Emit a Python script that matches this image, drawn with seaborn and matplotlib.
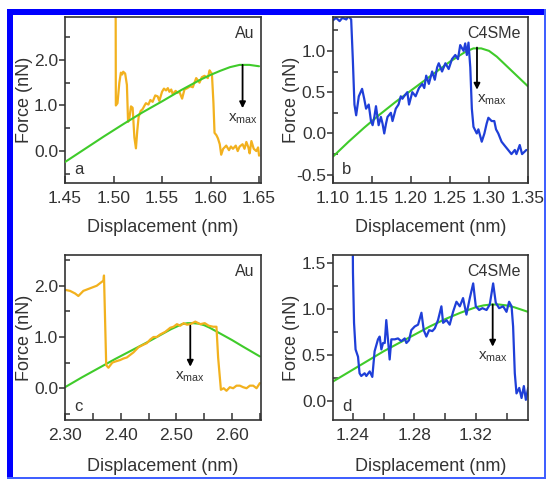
import numpy as np
import pandas as pd
import seaborn as sns
import matplotlib.pyplot as plt
import matplotlib.ticker as ticker
from matplotlib.patches import Rectangle

# panel a : Au, first trace
a_data_x = [1.5022, 1.5024, 1.5041, 1.5060, 1.5076, 1.5090, 1.5100, 1.5120, 1.5138, 1.5150,
            1.5162, 1.5180, 1.5197, 1.5215, 1.5231, 1.5245, 1.5259, 1.5280, 1.5300, 1.5320,
            1.5334, 1.5360, 1.5380, 1.5403, 1.5430, 1.5455, 1.5472, 1.5500, 1.5520, 1.5541,
            1.5560, 1.5576, 1.5595, 1.5610, 1.5640, 1.5660, 1.5679, 1.5707, 1.5731, 1.5760,
            1.5790, 1.5817, 1.5852, 1.5870, 1.5886, 1.5910, 1.5938, 1.5972, 1.5990, 1.6005,
            1.6014, 1.6030, 1.6041, 1.6060, 1.6076, 1.6095, 1.6110, 1.6130, 1.6162, 1.6190,
            1.6210, 1.6231, 1.6260, 1.6280, 1.6300, 1.6330, 1.6350, 1.6369, 1.6390, 1.6403,
            1.6421, 1.6445, 1.6472, 1.6490, 1.6500]
a_data_y = [3.20, 1.00, 1.05, 1.50, 1.72, 1.68, 1.74, 1.70, 1.45, 0.64,
            0.70, 0.98, 0.95, 0.30, 0.06, 0.45, 0.75, 0.88, 0.92, 1.00,
            1.05, 1.02, 1.12, 1.08, 1.22, 1.20, 1.10, 1.30, 1.37, 1.33,
            1.38, 1.30, 1.35, 1.25, 1.32, 1.28, 1.30, 1.15, 1.35, 1.38,
            1.42, 1.40, 1.60, 1.55, 1.50, 1.62, 1.65, 1.60, 1.77, 1.72,
            1.70, 1.05, 0.40, 0.35, 0.28, 0.15, -0.08, 0.05, 0.12, 0.02,
            0.10, 0.05, 0.12, 0.00, 0.10, 0.15, 0.05, 0.20, 0.08, -0.05,
            0.22, 0.05, 0.00, 0.08, -0.10]
a_fit_x = [1.45, 1.47, 1.49, 1.51, 1.53, 1.55, 1.57, 1.59, 1.60, 1.61, 1.62, 1.63, 1.64, 1.65]
a_fit_y = [-0.24, 0.04, 0.32, 0.59, 0.85, 1.09, 1.34, 1.57, 1.67, 1.76, 1.84, 1.89, 1.89, 1.86]

# panel b : C4SMe, first trace
b_data_x = [1.1000, 1.1040, 1.1085, 1.1120, 1.1170, 1.1200, 1.1233, 1.1254, 1.1275, 1.1297,
            1.1331, 1.1373, 1.1400, 1.1424, 1.1458, 1.1487, 1.1508, 1.1530, 1.1551, 1.1585,
            1.1614, 1.1635, 1.1657, 1.1680, 1.1699, 1.1742, 1.1763, 1.1805, 1.1840, 1.1869,
            1.1890, 1.1911, 1.1953, 1.1975, 1.2017, 1.2059, 1.2102, 1.2144, 1.2170, 1.2195,
            1.2229, 1.2271, 1.2305, 1.2335, 1.2356, 1.2398, 1.2441, 1.2483, 1.2525, 1.2568,
            1.2602, 1.2631, 1.2674, 1.2695, 1.2716, 1.2737, 1.2760, 1.2780, 1.2801, 1.2843,
            1.2864, 1.2907, 1.2941, 1.2970, 1.2992, 1.3034, 1.3068, 1.3090, 1.3119, 1.3161,
            1.3203, 1.3246, 1.3288, 1.3331, 1.3352, 1.3394, 1.3424, 1.3479]
b_data_y = [1.37, 1.40, 1.36, 1.40, 1.38, 1.42, 1.38, 0.90, 0.35, 0.22,
            0.45, 0.54, 0.42, 0.30, 0.35, 0.15, 0.10, 0.20, 0.33, 0.10,
            0.20, 0.12, 0.00, 0.12, 0.20, 0.25, 0.15, 0.30, 0.35, 0.45,
            0.42, 0.45, 0.50, 0.35, 0.50, 0.45, 0.55, 0.60, 0.55, 0.70,
            0.60, 0.75, 0.65, 0.80, 0.85, 0.75, 0.85, 0.78, 0.90, 0.95,
            0.90, 1.07, 1.00, 1.09, 0.95, 1.10, 0.80, 0.30, 0.08, 0.00,
            0.05, -0.10, 0.00, 0.12, 0.19, 0.15, 0.15, 0.05, 0.00, -0.10,
            -0.15, -0.20, -0.25, -0.20, -0.25, -0.14, -0.25, -0.20]
b_fit_x = [1.10, 1.12, 1.14, 1.16, 1.18, 1.20, 1.22, 1.24, 1.25, 1.26,
           1.27, 1.28, 1.29, 1.30, 1.31, 1.32, 1.33, 1.34, 1.35]
b_fit_y = [-0.28, -0.10, 0.07, 0.23, 0.38, 0.52, 0.66, 0.80, 0.87, 0.93,
           0.99, 1.03, 1.03, 1.00, 0.93, 0.84, 0.75, 0.66, 0.57]

# panel c : Au, second trace
c_data_x = [2.300, 2.309, 2.318, 2.324, 2.333, 2.345, 2.357, 2.363, 2.369, 2.370,
            2.374, 2.378, 2.385, 2.390, 2.399, 2.405, 2.411, 2.417, 2.423, 2.432,
            2.441, 2.447, 2.453, 2.459, 2.465, 2.471, 2.480, 2.489, 2.495, 2.501,
            2.507, 2.513, 2.519, 2.525, 2.534, 2.543, 2.551, 2.558, 2.566, 2.572,
            2.575, 2.580, 2.585, 2.590, 2.596, 2.602, 2.608, 2.614, 2.620, 2.626,
            2.632, 2.638, 2.644, 2.650]
c_data_y = [1.92, 1.90, 1.85, 1.80, 1.90, 1.95, 2.00, 2.05, 2.10, 2.20,
            0.45, 0.40, 0.50, 0.52, 0.55, 0.58, 0.60, 0.65, 0.70, 0.80,
            0.85, 0.88, 0.95, 1.00, 1.00, 1.05, 1.10, 1.18, 1.20, 1.25,
            1.22, 1.27, 1.24, 1.25, 1.30, 1.25, 1.27, 1.22, 1.20, 1.20,
            0.60, -0.03, 0.00, -0.05, 0.02, 0.00, 0.05, 0.05, 0.02, 0.00,
            0.05, 0.05, 0.00, 0.10]
c_fit_x = [2.30, 2.33, 2.36, 2.39, 2.42, 2.45, 2.47, 2.49, 2.50, 2.51,
           2.52, 2.53, 2.54, 2.55, 2.56, 2.58, 2.60, 2.62, 2.65]
c_fit_y = [0.02, 0.21, 0.39, 0.57, 0.74, 0.91, 1.03, 1.15, 1.20, 1.25,
           1.27, 1.27, 1.26, 1.23, 1.18, 1.06, 0.94, 0.81, 0.62]

# panel d : C4SMe, second trace
d_data_x = [1.2398, 1.2400, 1.2407, 1.2417, 1.2433, 1.2443, 1.2454, 1.2476, 1.2487, 1.2509,
            1.2526, 1.2541, 1.2563, 1.2574, 1.2585, 1.2596, 1.2607, 1.2617, 1.2628, 1.2639,
            1.2650, 1.2672, 1.2693, 1.2715, 1.2737, 1.2748, 1.2765, 1.2780, 1.2802, 1.2824,
            1.2846, 1.2861, 1.2878, 1.2896, 1.2917, 1.2933, 1.2954, 1.2976, 1.2987, 1.3009,
            1.3030, 1.3052, 1.3074, 1.3096, 1.3117, 1.3139, 1.3161, 1.3183, 1.3200, 1.3222,
            1.3243, 1.3270, 1.3291, 1.3313, 1.3330, 1.3352, 1.3378, 1.3400, 1.3417, 1.3433,
            1.3443, 1.3454, 1.3465, 1.3483, 1.3498, 1.3513, 1.3526, 1.3541]
d_data_y = [1.90, 1.40, 0.85, 0.56, 0.48, 0.30, 0.27, 0.30, 0.27, 0.32,
            0.26, 0.54, 0.67, 0.70, 0.56, 0.63, 0.63, 0.88, 0.67, 0.45,
            0.67, 0.67, 0.68, 0.65, 0.68, 0.63, 0.66, 0.77, 0.81, 0.83,
            0.96, 0.77, 0.70, 0.77, 0.76, 0.79, 0.88, 1.03, 0.85, 0.88,
            0.83, 0.97, 1.08, 1.03, 1.12, 0.94, 1.12, 1.28, 1.03, 0.99,
            1.01, 0.99, 1.05, 1.28, 1.07, 1.01, 1.03, 0.97, 1.08, 1.03,
            0.81, 0.30, 0.08, 0.14, 0.03, 0.16, 0.01, 0.14]
d_fit_x = [1.227, 1.24, 1.25, 1.26, 1.27, 1.28, 1.29, 1.30, 1.31, 1.32,
           1.325, 1.33, 1.335, 1.34, 1.345, 1.354]
d_fit_y = [0.21, 0.34, 0.44, 0.54, 0.63, 0.72, 0.81, 0.89, 0.96, 1.02,
           1.04, 1.05, 1.05, 1.04, 1.02, 0.97]

# arrows: x position, top, tip
arrows = {'a': (1.633, 1.89, 0.94), 'b': (1.2846, 1.04, 0.53),
          'c': (2.525, 1.22, 0.42), 'd': (1.331, 1.05, 0.59)}

sns.set_style('white')
plt.rcParams['font.family'] = ['Liberation Sans', 'DejaVu Sans']
plt.rcParams['mathtext.fontset'] = 'custom'
plt.rcParams['mathtext.rm'] = 'Liberation Sans'

ORANGE = '#F2B11E'
BLUE = '#1F3FD8'
GREEN = '#3FCB2A'
DARK = '#333333'

fig = plt.figure(figsize=(5.46, 4.80), dpi=100)

ax_a = fig.add_axes([65/546, 1-183/480, 196/546, 166/480])
ax_b = fig.add_axes([333/546, 1-183/480, 195/546, 166/480])
ax_c = fig.add_axes([65/546, 1-420/480, 196/546, 165/480])
ax_d = fig.add_axes([333/546, 1-420/480, 195/546, 165/480])


def draw(ax, dx, dy, fx, fy, color, green_on_top):
    df = pd.DataFrame({'x': dx, 'y': dy})
    fit = pd.DataFrame({'x': fx, 'y': fy})
    sns.lineplot(data=df, x='x', y='y', ax=ax, color=color, lw=1.6,
                 sort=False, estimator=None, zorder=2)
    sns.lineplot(data=fit, x='x', y='y', ax=ax, color=GREEN, lw=1.5,
                 sort=False, estimator=None, zorder=3 if green_on_top else 1)


def style(ax, xlim, ylim, xmajor, ymajor, xminor, yminor, fmt_x, fmt_y, name, panel):
    ax.set_xlim(xlim)
    ax.set_ylim(ylim)
    ax.xaxis.set_major_locator(ticker.MultipleLocator(xmajor))
    ax.yaxis.set_major_locator(ticker.MultipleLocator(ymajor))
    if xminor:
        ax.xaxis.set_minor_locator(ticker.MultipleLocator(xminor))
    if yminor:
        ax.yaxis.set_minor_locator(ticker.MultipleLocator(yminor))
    ax.xaxis.set_major_formatter(ticker.FormatStrFormatter(fmt_x))
    ax.yaxis.set_major_formatter(ticker.FormatStrFormatter(fmt_y))
    for sp in ax.spines.values():
        sp.set_color(DARK)
        sp.set_linewidth(1.2)
    ax.tick_params(axis='x', which='both', direction='in', length=5, width=1.1,
                   color=DARK, labelcolor=DARK, labelsize=12.5, pad=6, bottom=True)
    ax.tick_params(axis='y', which='major', direction='out', length=4, width=1.1,
                   color=DARK, labelcolor=DARK, labelsize=12.5, pad=1, left=True)
    ax.tick_params(axis='y', which='minor', direction='in', length=3.5, width=1.1,
                   color=DARK, left=True)
    ax.set_xlabel('Displacement (nm)', fontsize=13, color=DARK)
    ax.set_ylabel('Force (nN)', fontsize=13, color=DARK)
    ax.text(0.965, 0.90, name, transform=ax.transAxes, ha='right', va='center',
            fontsize=11.5, color=DARK)
    ax.text(0.07, 0.08, panel, transform=ax.transAxes, ha='center', va='center',
            fontsize=12, color=DARK)


draw(ax_a, a_data_x, a_data_y, a_fit_x, a_fit_y, ORANGE, True)
draw(ax_b, b_data_x, b_data_y, b_fit_x, b_fit_y, BLUE, False)
draw(ax_c, c_data_x, c_data_y, c_fit_x, c_fit_y, ORANGE, False)
draw(ax_d, d_data_x, d_data_y, d_fit_x, d_fit_y, BLUE, False)

style(ax_a, (1.45, 1.652), (-0.70, 2.94), 0.05, 1.0, None, 0.5, '%.2f', '%.1f', 'Au', 'a')
style(ax_b, (1.10, 1.35), (-0.60, 1.41), 0.05, 0.5, None, 0.25, '%.2f', '%.1f', 'C4SMe', 'b')
style(ax_c, (2.30, 2.652), (-0.62, 2.60), 0.10, 1.0, 0.05, 0.5, '%.2f', '%.1f', 'Au', 'c')
style(ax_d, (1.227, 1.354), (-0.21, 1.59), 0.04, 0.5, 0.02, 0.25, '%.2f', '%.1f', 'C4SMe', 'd')

for ax, key, ha in [(ax_a, 'a', 'center'), (ax_b, 'b', 'left'),
                    (ax_c, 'c', 'center'), (ax_d, 'd', 'center')]:
    x, top, tip = arrows[key]
    ax.annotate('', xy=(x, tip), xytext=(x, top),
                arrowprops=dict(arrowstyle='-|>', color='black', lw=1.3,
                                mutation_scale=9, shrinkA=0, shrinkB=0), zorder=5)
    ax.annotate(r'x$_{\mathregular{max}}$', xy=(x, tip), xytext=(0, -2),
                textcoords='offset points', ha=ha, va='top', fontsize=11, color=DARK)

# y label / x label positions
for ax in [ax_a, ax_c]:
    ax.yaxis.set_label_coords(-0.165, 0.5)
for ax in [ax_b, ax_d]:
    ax.yaxis.set_label_coords(-0.17, 0.5)
for ax in [ax_a, ax_b]:
    ax.xaxis.set_label_coords(0.5, -0.215)
for ax in [ax_c, ax_d]:
    ax.xaxis.set_label_coords(0.5, -0.23)

# blue frame
frame = [((7, 9), 539, 6, '#0000FF'), ((7, 9), 6, 470, '#0000FF'),
         ((544, 9), 2, 470, '#4060FF'), ((7, 477), 539, 2, '#4060FF')]
for (px, py), w, h, col in frame:
    fig.add_artist(Rectangle((px/546, 1-(py+h)/480), w/546, h/480,
                             transform=fig.transFigure, color=col, lw=0))

fig.savefig('out.png', dpi=100)
